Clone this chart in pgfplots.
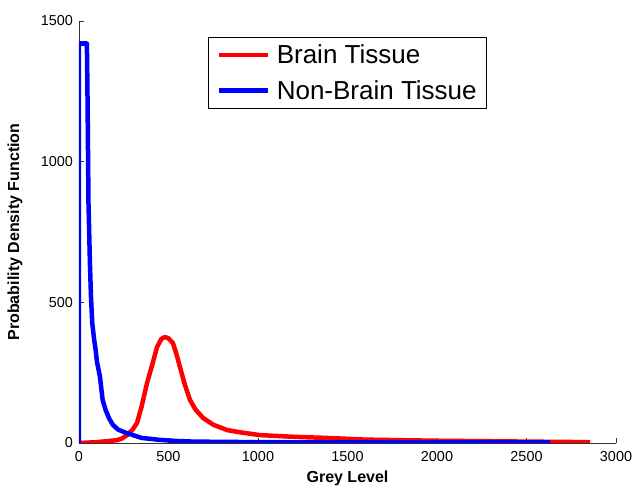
\documentclass[border=0pt]{standalone}
\usepackage{fontspec}
\setmainfont{Liberation Sans}
\usepackage{pgfplots}
\pgfplotsset{compat=1.18}
\begin{document}
\begin{tikzpicture}
\begin{axis}[
  scale only axis,
  width=537pt, height=422pt,
  xmin=0, xmax=3000, ymin=0, ymax=1500,
  axis x line=bottom, axis y line=left,
  axis line style={-, line width=0.8pt, black!80},
  xtick={0,500,...,3000}, ytick={0,500,1000,1500},
  tick align=inside,
  major tick length=5pt,
  tick style={line width=0.8pt, black!80},
  /pgf/number format/assume math mode=true,
  /pgf/number format/1000 sep={},
  ticklabel style={font=\fontsize{14.4}{16}\selectfont},
  xticklabel style={yshift=-5pt},
  yticklabel style={xshift=-2.5pt},
  xlabel={\textbf{Grey Level}},
  ylabel={\textbf{Probability Density Function}},
  label style={font=\fontsize{16}{18}\selectfont},
  xlabel style={at={(axis description cs:0.5,-0.083)}, anchor=center},
  ylabel style={at={(axis description cs:-0.119,0.5)}, anchor=center},
  legend style={at={(0.24,0.962)}, anchor=north west, draw=black, line width=0.8pt,
    font=\fontsize{26}{30}\selectfont, inner xsep=8pt, inner ysep=5.5pt, row sep=11pt,
    column sep=5pt},
  legend cell align=left,
  legend image code/.code={\draw[#1, line width=4.5pt] (0pt,0pt) -- (49pt,0pt);},
]
\coordinate (sw) at (rel axis cs:0,0);
\coordinate (ne) at (rel axis cs:1,1);
\addplot[red, line width=4.5pt, line join=round] coordinates {
(0,0) (100,3) (212,10) (240,16) (268,28) (300,48) (324,71) (350,130) (380,213)
(410,280) (436,341) (460,370) (480,377) (500,372) (525,355) (545,315) (564,270)
(590,210) (620,153) (650,120) (693,89) (750,65) (827,46) (900,38) (1011,28)
(1200,22) (1385,18) (1600,12) (1800,10) (2000,8) (2500,5) (2855,3)
};
\addlegendentry{Brain Tissue}
\addplot[blue, line width=4.5pt, line join=round] coordinates {
(0,0) (0,1420) (44,1420) (47,1268) (53,853) (61,640) (67,519) (74,427) (84,370)
(93,331) (100,290) (117,236) (132,153) (150,115) (170,85) (190,64) (220,47)
(268,35) (350,18) (452,11) (550,7) (637,5) (800,4) (1000,3) (1500,2) (2000,2) (2631,2)
};
\addlegendentry{Non-Brain Tissue}
\end{axis}
\pgfresetboundingbox
\path ([shift={(-79pt,-46pt)}]sw) rectangle ([shift={(18pt,21pt)}]ne);
\end{tikzpicture}
\end{document}
